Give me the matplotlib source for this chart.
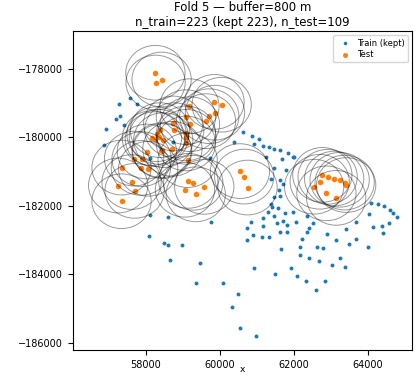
import matplotlib
matplotlib.use("Agg")
import matplotlib.pyplot as plt
from matplotlib.patches import Circle

buffer_m = 800

train_x = [57568, 57749, 57278, 57289, 57203, 57413, 56919, 56878, 58122, 58595,
           59757, 58089, 58487, 58595, 58987, 58657, 59460, 59343, 60087, 60487,
           60319, 60541, 60973, 60722, 60722, 60838, 60884, 61127, 61333, 61163,
           61298, 61468, 61541, 61406, 61576, 61622, 61603, 61757, 61965, 61803,
           61622, 61819, 62063, 62360, 62522, 62414, 62217, 61649, 62163, 62155,
           62414, 62630, 62792, 62684, 62901, 63144, 63020, 63244, 63387, 63495,
           63414, 63684, 63684, 64009, 64036, 64090, 64279, 64441, 64576, 64657,
           64776, 64128, 64387, 64549, 64398, 60911, 61479, 61919, 62090, 62325,
           62846, 62595, 60614, 60865, 61041, 60371, 60911, 61171, 61316, 61468,
           61609, 61838, 62009, 61244, 61681, 61451, 61779, 61622, 59730, 61371,
           61460, 61371, 61154, 61965, 61695, 61695, 62344, 58108, 58738]
train_y = [-178852, -179019, -179036, -179378, -179471, -179641, -179743, -180225, -182269, -182313,
           -182464, -182882, -183078, -183145, -183154, -183574, -183679, -184254, -184269, -184584,
           -184964, -185574, -185811, -182648, -182993, -182464, -182853, -182920, -182920, -182581,
           -182190, -182298, -182494, -182026, -182073, -181714, -181539, -182196, -182181, -182570,
           -182756, -182756, -182482, -182307, -182502, -182648, -182970, -183253, -183194, -183428,
           -183533, -183203, -183224, -183603, -182832, -182999, -183729, -183516, -183796, -183116,
           -182686, -182961, -182482, -183203, -182248, -181918, -181948, -181997, -182137, -182196,
           -182318, -182610, -182590, -182517, -182803, -183808, -183983, -183808, -184041, -184187,
           -184187, -184468, -179839, -179962, -180055, -180128, -180201, -180245, -180292, -180350,
           -180377, -180458, -180566, -180584, -180625, -180902, -180964, -181247, -180613, -181218,
           -181734, -181956, -182365, -180584, -181364, -182453, -182756, -180613, -180128]

test_x = [58257, 58262, 58424, 59852, 60046, 59865, 59711, 59622, 59176, 59081,
          59189, 59081, 59095, 58738, 58765, 58378, 58351, 58243, 58162, 58289,
          58468, 58027, 57681, 57884, 57865, 58062, 57343, 58424, 58716, 59081,
          59127, 59279, 59144, 59576, 59054, 59346, 57251, 57613, 57695, 57343,
          58441, 60541, 60654, 60744, 62763, 62906, 63082, 63230, 63365, 63406,
          62692, 62541, 62873, 63136]
test_y = [-178108, -178394, -178306, -178960, -179042, -179276, -179378, -179524, -179086, -179407,
          -179612, -179883, -179982, -179591, -179787, -179787, -179982, -180050, -180020, -179904,
          -180079, -180412, -180619, -180634, -180891, -180917, -180882, -180371, -180333, -180175,
          -180663, -181326, -181270, -181445, -181530, -181664, -181407, -181305, -181562, -181866,
          -180400, -180984, -181145, -181466, -181095, -181150, -181203, -181238, -181320, -181393,
          -181296, -181442, -181635, -181767]

plt.rcParams["font.size"] = 7

fig = plt.figure(figsize=(4.19, 3.75), dpi=100)
ax = fig.add_axes([0.174, 0.066, 0.809, 0.851])

ax.scatter(train_x, train_y, s=8, color="#1f77b4", linewidths=0,
           label="Train (kept)", zorder=2)
ax.scatter(test_x, test_y, s=16, color="#ff7f0e", linewidths=0,
           label="Test", zorder=2)

# buffer rings around every test point
for x, y in zip(test_x, test_y):
    ax.add_patch(Circle((x, y), buffer_m, fill=False, edgecolor="k",
                        alpha=0.4, linewidth=0.7, zorder=3))

ax.set_xlim(56030, 65180)
ax.set_ylim(-186225, -176890)
ax.set_xticks([58000, 60000, 62000, 64000])
ax.set_yticks([-186000, -184000, -182000, -180000, -178000])
ax.set_xlabel("x", fontsize=6.5)
ax.xaxis.set_label_coords(0.5, -0.045)

ax.set_title("Fold 5 \u2014 buffer=800 m\nn_train=223 (kept 223), n_test=109",
             fontsize=8.5, pad=4)
ax.legend(loc="upper right", fontsize=6, markerscale=0.9,
          borderpad=0.4, handletextpad=0.4, labelspacing=0.3)

fig.savefig("out.png", dpi=100)
